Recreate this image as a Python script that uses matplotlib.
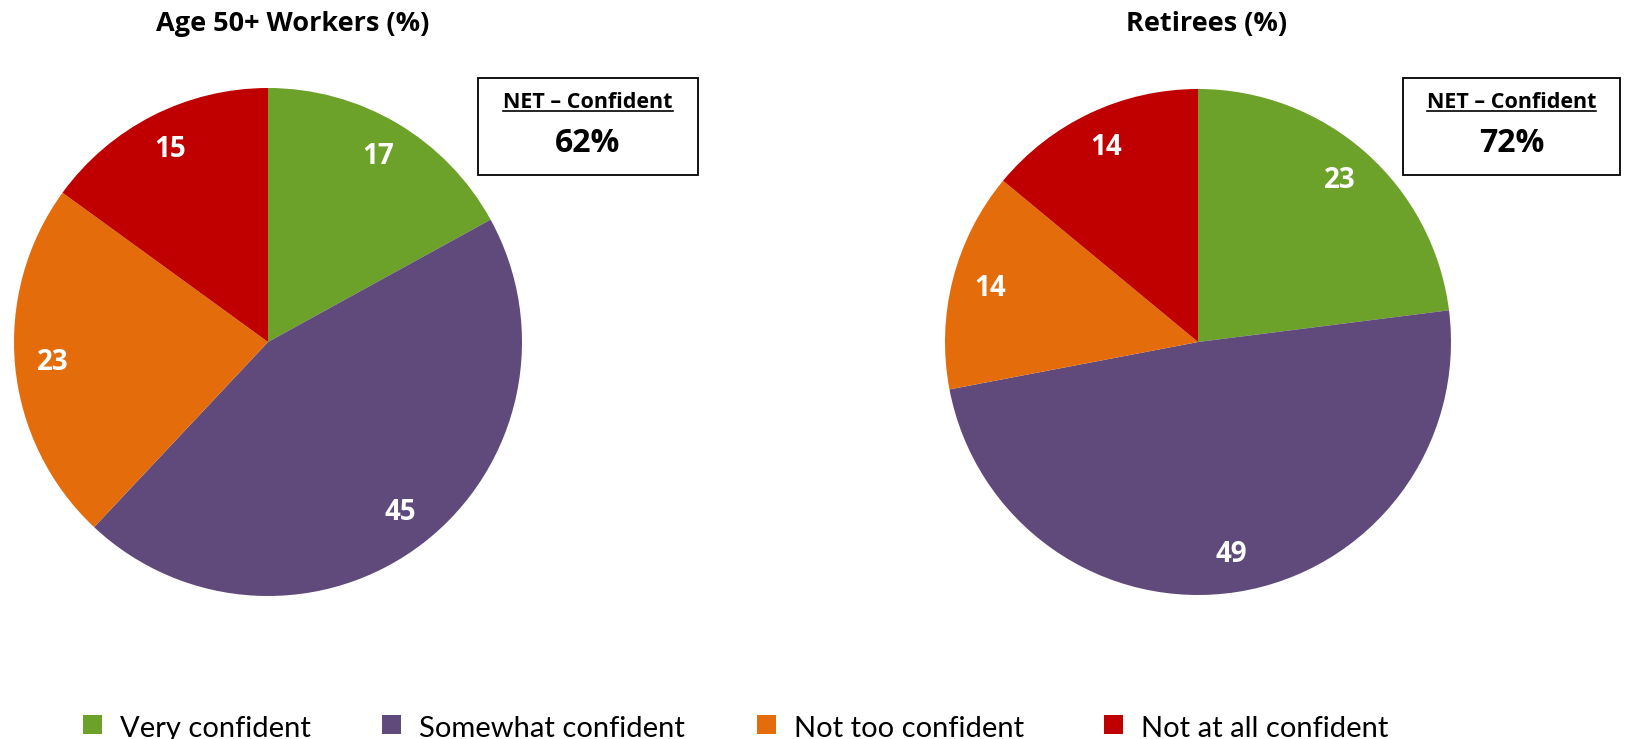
import matplotlib
matplotlib.use("Agg")
import matplotlib.pyplot as plt
import numpy as np
from matplotlib.patches import Rectangle
from matplotlib.lines import Line2D

plt.rcParams['font.family'] = ['Lato', 'DejaVu Sans']
BOLD = ['Open Sans', 'DejaVu Sans']

# survey shares, in percent
categories = ['Very confident', 'Somewhat confident', 'Not too confident', 'Not at all confident']
workers = [17, 45, 23, 15]
retirees = [23, 49, 14, 14]
titles = ['Age 50+ Workers (%)', 'Retirees (%)']
net_labels = ['62%', '72%']
colors = ['#6CA12A', '#604A7B', '#E46C0A', '#C00000']

W, H = 1633, 739
fig = plt.figure(figsize=(W / 100, H / 100), dpi=100)


def fx(x):
    return x / W


def fy(y):
    return 1 - y / H


def pie_axes(cx, cy, r):
    return fig.add_axes([fx(cx - r), fy(cy + r), 2 * r / W, 2 * r / H])


def draw_pie(ax, vals):
    wedges, _ = ax.pie(vals, colors=colors, startangle=90, counterclock=False,
                       radius=1, wedgeprops=dict(linewidth=0))
    total = sum(vals)
    start = 90.0
    for v in vals:
        span = 360.0 * v / total
        mid = np.deg2rad(start - span / 2)
        ax.text(0.85 * np.cos(mid), 0.85 * np.sin(mid), str(v), color='white',
                family=BOLD, fontsize=20, fontweight='bold', ha='center', va='center')
        start -= span
    ax.set_xlim(-1, 1)
    ax.set_ylim(-1, 1)
    ax.set_aspect('equal')
    ax.axis('off')
    return wedges


ax1 = pie_axes(268, 342, 254)
draw_pie(ax1, workers)
ax2 = pie_axes(1198, 342, 253)
draw_pie(ax2, retirees)

# titles above each pie
fig.text(fx(293), fy(24), titles[0], family=BOLD, fontsize=19.5, fontweight='bold',
         ha='center', va='center')
fig.text(fx(1207), fy(24), titles[1], family=BOLD, fontsize=19.5, fontweight='bold',
         ha='center', va='center')

# NET boxes
boxes = [(478, 78, 698, 175), (1403, 78, 1620, 175)]
heads = []
for (x0, y0, x1, y1), net in zip(boxes, net_labels):
    fig.add_artist(Rectangle((fx(x0), fy(y1)), fx(x1 - x0), (y1 - y0) / H,
                             transform=fig.transFigure, facecolor='white',
                             edgecolor='black', linewidth=1.3))
    cx = (x0 + x1) / 2
    t = fig.text(fx(cx), fy(103), 'NET \u2013 Confident', family=BOLD, fontsize=15.5,
                 fontweight='bold', ha='center', va='center')
    heads.append(t)
    fig.text(fx(cx), fy(143), net, family=BOLD, fontsize=23, fontweight='bold',
             ha='center', va='center')

# underline the box headings
fig.canvas.draw()
renderer = fig.canvas.get_renderer()
for t in heads:
    bb = t.get_window_extent(renderer).transformed(fig.transFigure.inverted())
    fig.add_artist(Line2D([bb.x0, bb.x1], [bb.y0 + 0.003, bb.y0 + 0.003],
                          transform=fig.transFigure, color='black', linewidth=1.2))

# legend along the bottom edge
leg_x = [83, 382, 757, 1104]
for x, name, c in zip(leg_x, categories, colors):
    fig.add_artist(Rectangle((fx(x), fy(734)), 19 / W, 19 / H, transform=fig.transFigure,
                             facecolor=c, edgecolor='none'))
    fig.text(fx(x + 37), fy(737), name, fontsize=21, ha='left', va='baseline')

fig.savefig('out.png', dpi=100, facecolor='white')
